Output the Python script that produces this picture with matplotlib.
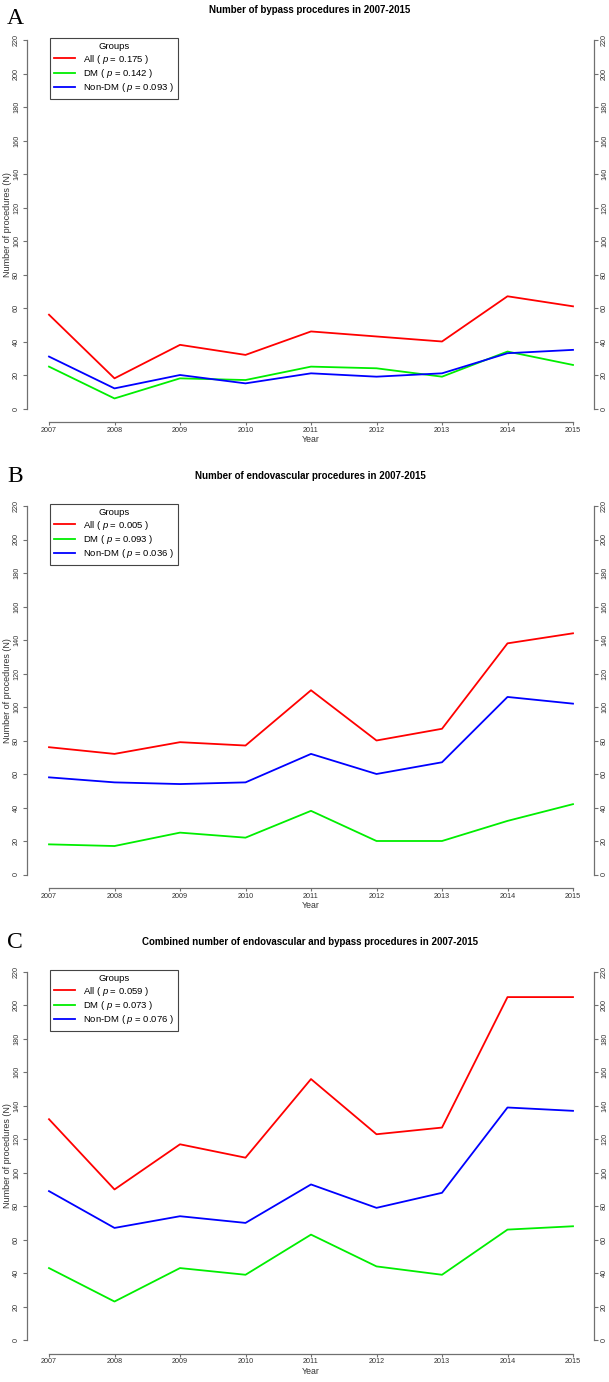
import matplotlib
matplotlib.use("Agg")
import matplotlib.pyplot as plt

plt.rcParams['font.family'] = ['Liberation Sans', 'DejaVu Sans']
plt.rcParams['mathtext.fontset'] = 'custom'
plt.rcParams['mathtext.it'] = 'Liberation Sans:italic'
plt.rcParams['mathtext.rm'] = 'Liberation Sans'

years = [2007, 2008, 2009, 2010, 2011, 2012, 2013, 2014, 2015]

bypass_all = [56, 18, 38, 32, 46, 43, 40, 67, 61]
bypass_dm = [25, 6, 18, 17, 25, 24, 19, 34, 26]
bypass_nondm = [31, 12, 20, 15, 21, 19, 21, 33, 35]

endo_all = [76, 72, 79, 77, 110, 80, 87, 138, 144]
endo_dm = [18, 17, 25, 22, 38, 20, 20, 32, 42]
endo_nondm = [58, 55, 54, 55, 72, 60, 67, 106, 102]

comb_all = [132, 90, 117, 109, 156, 123, 127, 205, 205]
comb_dm = [43, 23, 43, 39, 63, 44, 39, 66, 68]
comb_nondm = [89, 67, 74, 70, 93, 79, 88, 139, 137]

titles = ["Number of bypass procedures in 2007-2015",
          "Number of endovascular procedures in 2007-2015",
          "Combined number of endovascular and bypass procedures in 2007-2015"]
letters = ["A", "B", "C"]
pvals = [["0.175", "0.142", "0.093"],
         ["0.005", "0.093", "0.036"],
         ["0.059", "0.073", "0.076"]]
group_names = ["All", "DM", "Non-DM"]
colors = ["#ff0000", "#00ee00", "#0000ff"]
yticks = list(range(0, 221, 20))

panels = [(bypass_all, bypass_dm, bypass_nondm),
          (endo_all, endo_dm, endo_nondm),
          (comb_all, comb_dm, comb_nondm)]

W, H = 609, 1382
fig = plt.figure(figsize=(W / 100, H / 100), dpi=100)

zero_y = [408.5, 874.5, 1340.0]
top_y = [40.0, 506.0, 972.0]
title_y = [10, 476, 942]
letter_y = [18, 476, 942]
x0, x1 = 49, 573
px2pt = 72 / 100

axis_gray = "#707070"
lab_gray = "#333333"

for i in range(3):
    zb, zt = zero_y[i], top_y[i]
    ax = fig.add_axes([x0 / W, 1 - zb / H, (x1 - x0) / W, (zb - zt) / H])
    ax.set_xlim(2007, 2015)
    ax.set_ylim(0, 220)
    ax.patch.set_visible(False)
    series = panels[i]
    handles = []
    for s, c, g, p in zip(series, colors, group_names, pvals[i]):
        h, = ax.plot(years, s, color=c, lw=1.3, clip_on=False,
                     label=g + " ( $\\it{p}$ = " + p + " )")
        handles.append(h)
    ax.spines['top'].set_visible(False)
    for side in ['left', 'right', 'bottom']:
        ax.spines[side].set_color(axis_gray)
        ax.spines[side].set_linewidth(0.9)
    ax.spines['left'].set_position(('outward', 22 * px2pt))
    ax.spines['right'].set_position(('outward', 21 * px2pt))
    ax.spines['bottom'].set_position(('outward', 13.5 * px2pt))
    ax.spines['left'].set_bounds(0, 220)
    ax.spines['right'].set_bounds(0, 220)
    ax.spines['bottom'].set_bounds(2007, 2015)
    ax.set_yticks(yticks)
    ax.set_yticklabels([str(v) for v in yticks], rotation=90, va='center')
    ax.set_xticks(years)
    ax.set_xticklabels([str(y) for y in years])
    ax.tick_params(axis='y', which='both', left=True, right=True,
                   labelleft=True, labelright=True, direction='out',
                   length=3, width=0.8, color=axis_gray, labelsize=5.2,
                   labelcolor=lab_gray, pad=2)
    ax.tick_params(axis='x', direction='out', length=2, width=0.8,
                   color=axis_gray, labelsize=5.2, labelcolor=lab_gray, pad=1.5)
    ax.set_xlabel("Year", fontsize=6.3, color=lab_gray, labelpad=1)
    ax.set_ylabel("Number of procedures (N)", fontsize=6.5, color=lab_gray, labelpad=1)
    leg = ax.legend(handles=handles, title="Groups", loc='upper left',
                    bbox_to_anchor=(50 / W, 1 - 38 / H - (zt - 40) / H),
                    bbox_transform=fig.transFigure, borderaxespad=0,
                    fontsize=6.8, title_fontsize=6.8, fancybox=False,
                    edgecolor="#444444", framealpha=1, handlelength=2.2,
                    handletextpad=0.8, labelspacing=0.15, borderpad=0.45)
    leg.get_frame().set_linewidth(0.8)
    fig.text(310 / W, 1 - title_y[i] / H, titles[i], ha='center', va='center',
             fontsize=7, fontweight='bold')
    fig.text(15 / W, 1 - letter_y[i] / H, letters[i], ha='center', va='center',
             fontsize=17, family='Liberation Serif')

fig.savefig("out.png", dpi=100)
